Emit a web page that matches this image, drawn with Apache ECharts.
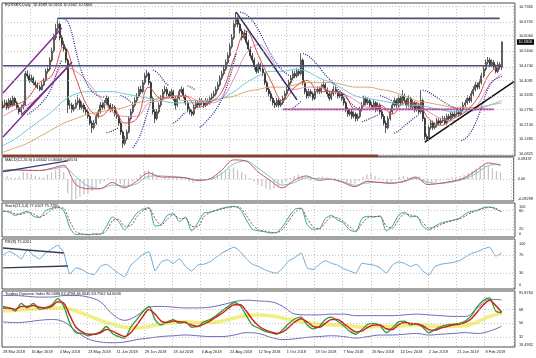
<!DOCTYPE html>
<html><head><meta charset="utf-8">
<script src="https://cdn.jsdelivr.net/npm/echarts@6/dist/echarts.min.js"></script>
<style>html,body{margin:0;padding:0;background:#fff}#c{width:536px;height:358px}</style>
</head><body><div id="c"></div>
<script>
// ---------- tick labels / categories ----------
const dateLabels = ['28 Mar 2018','16 Apr 2018','4 May 2018','23 May 2018','11 Jun 2018','29 Jun 2018','18 Jul 2018','6 Aug 2018','24 Aug 2018','12 Sep 2018','1 Oct 2018','19 Oct 2018','7 Nov 2018','26 Nov 2018','14 Dec 2018','2 Jan 2019','21 Jan 2019','8 Feb 2019'];
const barsPerDateLabel = 14;
const totalSlots = 253;
const priceTicks = [10.0825,10.1485,10.2130,10.2790,10.3435,10.4091,10.4740,10.5400,10.6060,10.6705,10.7365];
const macdTicks = [-0.09299, 0, 0.09437];
const stochTicks = [0, 20, 80, 100];
const rsiTicks = [0, 30, 70, 100];
const tdiTicks = [19.4932, 32, 50, 68, 91.8764];
const macdLevels = [0];
const stochLevels = [80, 20];
const rsiLevels = [70, 30];
const tdiLevels = [68, 50, 32];
const lastPrice = 10.5806;

// ---------- price data (daily EURSEK) ----------
const firstOpen = 10.290;
const closes = [10.300,10.310,10.290,10.320,10.300,10.330,10.310,10.290,10.270,10.290,
10.300,10.440,10.430,10.410,10.420,10.400,10.390,10.380,10.370,10.390,
10.410,10.450,10.460,10.500,10.540,10.600,10.640,10.660,10.600,10.570,
10.550,10.500,10.300,10.300,10.280,10.290,10.310,10.320,10.290,10.300,
10.280,10.270,10.250,10.220,10.200,10.220,10.250,10.270,10.300,10.290,
10.310,10.330,10.300,10.280,10.290,10.260,10.250,10.220,10.180,10.130,
10.150,10.180,10.240,10.270,10.300,10.320,10.340,10.370,10.360,10.400,
10.430,10.440,10.400,10.330,10.270,10.240,10.270,10.300,10.330,10.360,
10.370,10.350,10.340,10.360,10.330,10.300,10.330,10.360,10.370,10.340,
10.310,10.280,10.270,10.260,10.290,10.310,10.300,10.320,10.310,10.300,
10.320,10.310,10.330,10.340,10.350,10.370,10.390,10.420,10.440,10.460,
10.490,10.520,10.560,10.600,10.660,10.680,10.660,10.630,10.600,10.620,
10.580,10.550,10.520,10.500,10.470,10.450,10.480,10.460,10.440,10.400,
10.370,10.350,10.330,10.310,10.300,10.320,10.300,10.310,10.330,10.350,
10.370,10.400,10.420,10.440,10.430,10.450,10.440,10.500,10.400,10.360,
10.340,10.360,10.350,10.330,10.360,10.370,10.360,10.380,10.390,10.370,
10.350,10.330,10.350,10.370,10.360,10.340,10.350,10.330,10.310,10.280,
10.260,10.270,10.250,10.260,10.240,10.250,10.280,10.300,10.330,10.310,
10.320,10.300,10.290,10.310,10.280,10.300,10.270,10.250,10.220,10.200,
10.240,10.270,10.300,10.320,10.300,10.330,10.310,10.340,10.320,10.300,
10.330,10.290,10.310,10.280,10.300,10.270,10.320,10.240,10.160,10.150,
10.200,10.220,10.200,10.210,10.230,10.220,10.230,10.240,10.220,10.250,
10.240,10.260,10.250,10.260,10.270,10.260,10.280,10.300,10.310,10.330,
10.320,10.350,10.370,10.390,10.380,10.400,10.430,10.460,10.490,10.500,
10.480,10.490,10.470,10.450,10.480,10.469,10.581];
const highs = [10.318,10.325,10.322,10.331,10.334,10.342,10.338,10.318,10.299,10.303,
10.312,10.452,10.455,10.441,10.436,10.428,10.412,10.401,10.391,10.402,
10.421,10.462,10.478,10.513,10.556,10.618,10.662,10.686,10.672,10.612,
10.586,10.561,10.508,10.322,10.311,10.304,10.325,10.345,10.331,10.316,
10.309,10.292,10.281,10.258,10.231,10.234,10.262,10.283,10.314,10.312,
10.323,10.343,10.338,10.309,10.305,10.298,10.272,10.259,10.228,10.188,
10.164,10.192,10.251,10.284,10.313,10.334,10.353,10.383,10.386,10.412,
10.443,10.456,10.448,10.408,10.338,10.281,10.283,10.312,10.344,10.372,
10.386,10.381,10.362,10.373,10.368,10.339,10.342,10.371,10.383,10.378,
10.348,10.318,10.292,10.281,10.302,10.323,10.321,10.333,10.331,10.318,
10.332,10.329,10.342,10.353,10.364,10.383,10.404,10.433,10.454,10.474,
10.503,10.534,10.574,10.616,10.676,10.714,10.695,10.671,10.641,10.636,
10.629,10.591,10.561,10.532,10.511,10.481,10.493,10.489,10.471,10.448,
10.411,10.381,10.362,10.341,10.322,10.333,10.329,10.324,10.342,10.363,
10.384,10.413,10.434,10.455,10.452,10.463,10.461,10.530,10.508,10.409,
10.371,10.373,10.371,10.359,10.372,10.384,10.382,10.393,10.410,10.401,
10.379,10.361,10.364,10.385,10.381,10.369,10.362,10.358,10.339,10.318,
10.291,10.283,10.279,10.272,10.268,10.263,10.293,10.314,10.342,10.341,
10.334,10.329,10.312,10.324,10.318,10.313,10.309,10.281,10.259,10.231,
10.252,10.283,10.313,10.334,10.329,10.344,10.341,10.367,10.351,10.331,
10.343,10.338,10.323,10.318,10.314,10.309,10.367,10.329,10.248,10.172,
10.213,10.234,10.231,10.223,10.243,10.241,10.244,10.253,10.251,10.262,
10.261,10.272,10.271,10.273,10.283,10.281,10.293,10.314,10.324,10.344,
10.341,10.363,10.384,10.404,10.401,10.414,10.444,10.474,10.503,10.514,
10.511,10.504,10.501,10.481,10.493,10.491,10.583];
const lows = [10.278,10.290,10.279,10.283,10.291,10.294,10.298,10.280,10.258,10.262,
10.281,10.296,10.418,10.398,10.402,10.389,10.378,10.371,10.362,10.364,
10.383,10.404,10.440,10.452,10.491,10.532,10.590,10.628,10.588,10.556,
10.538,10.487,10.265,10.282,10.266,10.271,10.282,10.301,10.279,10.281,
10.268,10.257,10.239,10.207,10.176,10.191,10.212,10.241,10.262,10.278,
10.281,10.302,10.289,10.268,10.271,10.249,10.238,10.208,10.167,10.110,
10.121,10.142,10.174,10.231,10.262,10.291,10.310,10.332,10.348,10.352,
10.391,10.421,10.389,10.318,10.258,10.220,10.232,10.262,10.291,10.322,
10.349,10.339,10.328,10.331,10.319,10.280,10.292,10.322,10.351,10.329,
10.299,10.268,10.258,10.250,10.252,10.281,10.289,10.292,10.299,10.288,
10.291,10.298,10.302,10.321,10.331,10.342,10.361,10.382,10.411,10.431,
10.452,10.481,10.511,10.551,10.591,10.648,10.645,10.618,10.588,10.591,
10.568,10.538,10.509,10.488,10.458,10.440,10.442,10.449,10.428,10.389,
10.358,10.338,10.318,10.298,10.287,10.291,10.289,10.292,10.302,10.322,
10.341,10.362,10.391,10.411,10.419,10.421,10.429,10.432,10.388,10.348,
10.328,10.331,10.338,10.319,10.322,10.351,10.349,10.352,10.371,10.359,
10.338,10.319,10.322,10.341,10.349,10.329,10.331,10.318,10.298,10.268,
10.248,10.251,10.238,10.241,10.226,10.229,10.242,10.272,10.292,10.298,
10.301,10.289,10.278,10.281,10.268,10.272,10.258,10.238,10.208,10.175,
10.192,10.231,10.262,10.291,10.288,10.292,10.298,10.301,10.309,10.288,
10.291,10.278,10.281,10.268,10.271,10.258,10.262,10.228,10.145,10.141,
10.143,10.191,10.189,10.192,10.201,10.209,10.211,10.221,10.211,10.213,
10.229,10.232,10.241,10.242,10.252,10.249,10.252,10.272,10.291,10.302,
10.309,10.312,10.341,10.361,10.369,10.371,10.391,10.421,10.451,10.481,
10.469,10.471,10.459,10.441,10.442,10.458,10.456];

// moving averages read every 6 bars
const maStep = 6;
const maRed = [10.29,10.30,10.33,10.40,10.43,10.56,10.42,10.29,10.25,10.29,10.22,10.24,10.38,10.33,10.34,10.34,10.29,10.31,10.36,10.51,10.63,10.52,10.41,10.32,10.38,10.41,10.36,10.36,10.35,10.28,10.28,10.30,10.26,10.31,10.31,10.24,10.21,10.24,10.27,10.33,10.44,10.48];
const maPink = [10.25,10.28,10.30,10.34,10.40,10.47,10.45,10.40,10.33,10.27,10.25,10.25,10.31,10.32,10.34,10.34,10.32,10.31,10.33,10.42,10.53,10.57,10.51,10.41,10.37,10.38,10.38,10.36,10.35,10.32,10.29,10.29,10.28,10.28,10.30,10.27,10.24,10.23,10.26,10.30,10.39,10.44];
const maCyan = [10.12,10.15,10.19,10.23,10.27,10.32,10.35,10.36,10.36,10.36,10.35,10.34,10.33,10.32,10.31,10.31,10.31,10.32,10.33,10.36,10.40,10.43,10.45,10.45,10.46,10.45,10.42,10.40,10.37,10.34,10.33,10.32,10.31,10.30,10.30,10.29,10.28,10.27,10.27,10.28,10.30,10.32];
const maTan = [10.09,10.11,10.13,10.16,10.19,10.22,10.24,10.26,10.27,10.28,10.29,10.31,10.32,10.33,10.33,10.32,10.32,10.32,10.33,10.34,10.36,10.37,10.38,10.38,10.39,10.40,10.40,10.40,10.39,10.38,10.38,10.37,10.36,10.34,10.32,10.31,10.30,10.29,10.29,10.29,10.30,10.31];

// parabolic SAR segments [bar, price]
const sarSegments = [
 [[12,10.258],[15,10.275],[18,10.300],[21,10.330],[23,10.360],[25,10.400],[27,10.460],[29,10.500]],
 [[30,10.686],[32,10.670],[34,10.620],[36,10.540],[38,10.470],[40,10.420],[42,10.385],[44,10.360],[46,10.345],[48,10.338],[50,10.335]],
 [[51,10.176],[53,10.182],[55,10.190],[57,10.200]],
 [[58,10.343],[60,10.335],[62,10.322],[63,10.312]],
 [[64,10.110],[66,10.135],[68,10.175],[70,10.230],[72,10.290],[73,10.315]],
 [[74,10.456],[76,10.445],[78,10.425],[80,10.400],[82,10.385]],
 [[84,10.220],[86,10.232],[88,10.250],[90,10.270]],
 [[91,10.386],[93,10.378],[95,10.366]],
 [[97,10.200],[99,10.215],[101,10.235],[103,10.255],[105,10.280],[107,10.310],[109,10.350],[111,10.400],[113,10.460],[115,10.530]],
 [[117,10.714],[119,10.708],[121,10.695],[123,10.676],[125,10.650],[127,10.618],[129,10.580],[131,10.545],[133,10.512],[135,10.485],[137,10.462],[139,10.445],[141,10.432]],
 [[143,10.287],[145,10.300],[147,10.318]],
 [[148,10.530],[150,10.522],[152,10.508],[154,10.490],[156,10.468],[158,10.445],[160,10.425],[162,10.405],[164,10.385],[166,10.365],[168,10.345],[170,10.325],[172,10.305],[174,10.290],[176,10.280]],
 [[177,10.226],[179,10.232],[181,10.240],[183,10.248],[185,10.256]],
 [[186,10.342],[188,10.336],[190,10.328],[192,10.318]],
 [[193,10.175],[195,10.185],[197,10.200],[199,10.215],[201,10.230],[203,10.245],[205,10.255]],
 [[207,10.367],[209,10.362],[211,10.352],[213,10.340],[215,10.328],[217,10.316],[219,10.305],[221,10.295],[223,10.287],[225,10.282]],
 [[226,10.141],[228,10.150],[230,10.170],[232,10.200],[234,10.240],[236,10.290],[238,10.345],[240,10.390],[242,10.410],[244,10.420],[246,10.428]]
];

// drawn lines [bar, price]
const channelUpper = [[0,10.354],[29,10.643]];
const channelLower = [[0,10.158],[34,10.492]];
const channelLower2 = [[9,10.256],[33,10.478]];
const downTrend = [[115,10.714],[145,10.323]];
const upTrend = [[208,10.135],[252,10.404]];
const resistTop = [[27,10.686],[245,10.686]];
const resistMid = [[0,10.475],[245,10.475]];
const supportMag = [[138,10.281],[242,10.281]];
const supportLow = [[0,10.075],[185,10.075]];

// MACD
const macdStep = 6;
const macdMain = [0.037,0.041,0.037,0.037,0.046,0.059,-0.023,-0.041,-0.041,-0.014,-0.037,-0.009,0.027,0.009,0.009,0.005,-0.005,0.000,0.037,0.082,0.078,0.032,-0.005,-0.037,-0.005,0.014,-0.005,0.000,-0.014,-0.032,-0.009,-0.014,-0.018,-0.009,0.009,-0.023,-0.018,-0.009,0.005,0.037,0.069,0.059];
const macdSignal = [0.033,0.037,0.038,0.037,0.042,0.052,0.010,-0.030,-0.040,-0.025,-0.030,-0.020,0.012,0.014,0.010,0.007,-0.002,-0.001,0.022,0.065,0.078,0.048,0.010,-0.025,-0.015,0.006,0.002,0.000,-0.010,-0.026,-0.016,-0.013,-0.016,-0.012,0.003,-0.014,-0.018,-0.012,0.000,0.025,0.058,0.064];
const histStep = 2;
const macdHist = [0.010,0.012,0.008,0.006,0.010,0.030,0.028,0.022,0.015,0.010,0.008,0.020,0.030,0.040,0.045,0.030,
-0.060,-0.090,-0.085,-0.075,-0.065,-0.060,-0.050,-0.035,-0.020,
-0.010,0.005,-0.005,-0.015,-0.020,-0.035,-0.030,-0.010,0.005,
0.020,0.035,0.038,0.030,0.010,0.000,0.010,0.015,0.008,
0.005,0.010,0.000,-0.010,-0.015,-0.010,-0.005,0.000,0.003,
0.010,0.020,0.030,0.040,0.045,0.050,0.040,0.030,0.020,
0.005,-0.010,-0.020,-0.030,-0.040,-0.045,-0.040,-0.030,-0.020,
-0.010,0.005,0.015,0.020,0.015,0.000,-0.005,0.005,0.010,
0.012,0.008,0.000,0.005,0.003,-0.005,-0.015,-0.020,-0.018,
-0.008,0.010,0.020,0.025,0.015,0.005,-0.005,-0.015,-0.010,
0.000,0.010,0.015,0.010,0.005,0.010,0.012,-0.010,-0.025,
-0.020,-0.012,-0.005,0.000,0.005,0.008,0.010,0.012,0.018,
0.025,0.035,0.045,0.055,0.060,0.055,0.045,0.035,0.030];
const macdTrend = [[0,0.032],[32,0.078]];

// Stochastic (every 3 bars)
const oscStep = 3;
const stochMain = [80,75,65,72,78,62,58,80,88,92,80,25,3,4,2,5,4,30,60,45,18,45,72,85,90,30,35,65,70,45,60,15,40,72,75,82,88,92,94,85,50,20,15,12,8,10,30,60,85,88,35,20,22,55,65,50,40,18,12,55,62,60,63,15,30,65,75,60,62,30,18,30,40,45,50,55,70,78,82,90,92,85,77.01];
const stochSignal = [78,78,70,68,75,70,60,68,84,90,88,45,12,5,3,4,4,15,48,52,30,32,60,80,88,55,33,52,68,55,55,30,28,60,74,80,86,90,93,90,65,35,18,14,10,9,20,48,75,88,55,28,21,42,60,57,45,28,15,38,58,61,62,30,24,50,70,66,61,42,24,26,35,43,48,53,63,74,80,87,91,88,75.73];

// RSI(9) (every 3 bars)
const rsiValues = [70,78,72,62,82,70,62,75,84,92,75,28,42,38,30,27,45,50,40,30,22,48,60,72,78,35,55,60,52,62,45,35,48,50,55,65,75,82,88,78,62,50,45,38,33,30,42,58,65,75,42,38,50,58,52,48,40,35,30,52,50,48,42,30,48,55,52,45,50,35,26,45,50,52,54,58,66,74,78,84,88,68,75.02];
const rsiTrendUpper = [[0,86],[30,75]];
const rsiTrendLower = [[0,42],[32,46]];

// Traders Dynamic Index
const tdiGreen = [72,70,66,76,70,76,68,70,74,82,72,50,38,37,34,36,39,46,37,33,31,45,55,65,72,55,48,52,55,50,52,45,46,52,55,60,66,72,77,73,60,48,44,40,38,36,42,50,56,58,48,43,46,55,58,53,47,40,36,42,49,50,47,38,44,52,53,48,50,45,38,42,46,48,49,50,53,60,72,80,83,66,63.76];
const tdiRed = [70,70,68,72,72,73,71,70,72,78,76,60,45,39,36,36,38,42,40,36,33,38,48,59,68,62,53,51,53,52,51,48,46,49,53,58,63,69,74,74,66,55,47,42,39,37,39,45,52,56,52,46,45,50,55,55,50,44,39,40,45,48,48,43,42,48,51,50,49,47,42,41,44,46,48,49,51,56,65,74,80,73,64.60];
const tdiStep = 6;
const tdiBase = [66,67,68,69,70,70,66,60,54,49,45,44,46,49,51,52,51,51,53,57,60,61,60,57,54,51,49,48,48,46,45,46,46,47,48,47,46,46,47,52,59,63.47];
const tdiUpper = [86,86,85,84,84,86,86,84,78,62,54,60,71,72,71,70,70,71,74,78,80,79,78,72,62,61,61,62,62,60,60,60,60,61,62,61,60,59,59,70,81,80.57];
const tdiLower = [52,51,52,54,55,52,40,30,26,25,26,29,31,33,34,35,34,33,33,35,38,37,32,29,30,32,33,34,33,31,33,35,35,36,37,35,36,37,38,37,40,46.36];

// ---------- build ----------
const FONT = 'Liberation Sans';
const FS = 3.9;
const cats = Array.from({length: totalSlots}, (_, i) => String(i));
const candleData = closes.map((c, i) => [i ? closes[i - 1] : firstOpen, c, lows[i], highs[i]]);
const sampled = (arr, step) => arr.map((v, k) => [k * step, v]);

const grids = [
  {top: 3, height: 153},
  {top: 157, height: 44},
  {top: 203, height: 34},
  {top: 239, height: 50},
  {top: 291, height: 56}
].map(g => Object.assign({left: 2, right: 21, show: true, borderColor: '#4a4a4a', borderWidth: 1, backgroundColor: 'transparent'}, g));

const xAxes = grids.map((g, k) => ({
  type: 'category', gridIndex: k, data: cats, boundaryGap: true,
  axisLine: {show: false}, axisTick: {show: false},
  axisLabel: {
    show: k === 4, fontSize: FS, fontFamily: FONT, color: '#222', margin: 3, align: 'left',
    interval: (idx) => idx % barsPerDateLabel === 0 && idx / barsPerDateLabel < dateLabels.length,
    formatter: (v, idx) => dateLabels[idx / barsPerDateLabel] || ''
  },
  splitLine: {show: true, interval: (idx) => idx % barsPerDateLabel === 0 && idx > 0,
    lineStyle: {color: '#b8b8b8', type: [1, 2], width: 0.8}}
}));

function yAx(k, min, max, ticks, fmt) {
  return {
    type: 'value', gridIndex: k, position: 'right', min, max, scale: true,
    axisLine: {show: false}, axisTick: {show: false}, splitLine: {show: false},
    axisLabel: {show: true, customValues: ticks, formatter: fmt, fontSize: FS, fontFamily: FONT, color: '#222', margin: 4,
      showMinLabel: true, showMaxLabel: true,
      verticalAlignMinLabel: 'bottom', verticalAlignMaxLabel: 'top'}
  };
}
const yAxes = [
  yAx(0, 10.0736, 10.7543, priceTicks, v => v.toFixed(4)),
  yAx(1, -0.09299, 0.09437, macdTicks, v => v === 0 ? '0.00' : v.toFixed(5)),
  yAx(2, -5, 105, stochTicks, v => String(v)),
  yAx(3, -5, 106, rsiTicks, v => String(v)),
  yAx(4, 19.4932, 91.8764, tdiTicks, v => (v % 1 ? v.toFixed(4) : String(v)))
];
yAxes[0].axisLabel.verticalAlignMinLabel = 'middle';
yAxes[0].axisLabel.verticalAlignMaxLabel = 'middle';

const dottedLevel = {color: '#b8b8b8', type: [1, 2], width: 0.8};
function levelLines(values) {
  return {silent: true, symbol: 'none', label: {show: false}, animation: false,
    lineStyle: dottedLevel,
    data: values.map(v => ({yAxis: v}))};
}
function L(k, data, color, width, extra) {
  return Object.assign({type: 'line', xAxisIndex: k, yAxisIndex: k, data, symbol: 'none', silent: true,
    lineStyle: {color, width}, z: 3, animation: false}, extra || {});
}

const series = [];
// main panel
series.push({
  type: 'candlestick', xAxisIndex: 0, yAxisIndex: 0, data: candleData, barWidth: 1.5, z: 2, silent: true,
  itemStyle: {color: '#ffffff', color0: '#1a1a1a', borderColor: '#1a1a1a', borderColor0: '#1a1a1a', borderWidth: 0.7},
  markLine: levelLines(priceTicks)
});
series.push(L(0, sampled(maTan, maStep), '#d9a96a', 1, {smooth: 0.4}));
series.push(L(0, sampled(maCyan, maStep), '#6ec9d9', 1, {smooth: 0.4}));
series.push(L(0, sampled(maPink, maStep), '#e88bc0', 1, {smooth: 0.4}));
series.push(L(0, sampled(maRed, maStep), '#d9503f', 1, {smooth: 0.4}));
sarSegments.forEach(seg => series.push(L(0, seg, '#2b2b94', 1.3, {smooth: 0.3, lineStyle: {color: '#2b2b94', width: 1.3, type: [1, 1.3]}})));
series.push(L(0, channelUpper, '#7b2d8e', 1.4));
series.push(L(0, channelLower, '#7b2d8e', 1.4));
series.push(L(0, channelLower2, '#7b2d8e', 1.2));
series.push(L(0, downTrend, '#2b2b66', 1.5));
series.push(L(0, upTrend, '#111111', 1.5));
series.push(L(0, resistTop, '#4f4f6e', 1.6));
series.push(L(0, resistMid, '#50507e', 1.6));
series.push(L(0, supportMag, '#b0409c', 1.6));
series.push(L(0, supportLow, '#8e3a2a', 2.6));

// MACD panel
series.push({type: 'bar', xAxisIndex: 1, yAxisIndex: 1, data: sampled(macdHist, histStep), barWidth: 1.3, silent: true,
  itemStyle: {color: '#c4c4c4'}, z: 2, animation: false, markLine: levelLines(macdLevels)});
series.push(L(1, sampled(macdSignal, macdStep), '#72c6d6', 1, {smooth: 0.3}));
series.push(L(1, sampled(macdMain, macdStep), '#d0505a', 1, {smooth: 0.3}));
series.push(L(1, macdTrend, '#3a3a72', 1.3));

// Stochastic panel
series.push(L(2, sampled(stochMain, oscStep), '#3aa2a6', 1, {smooth: 0.25, markLine: levelLines(stochLevels)}));
series.push(L(2, sampled(stochSignal, oscStep), '#8a5a5a', 1, {smooth: 0.25, lineStyle: {color: '#8a5a5a', width: 1, type: [2, 1.5]}}));

// RSI panel
series.push(L(3, sampled(rsiValues, oscStep), '#6aaad8', 1, {smooth: 0.15, markLine: levelLines(rsiLevels)}));
series.push(L(3, rsiTrendUpper, '#3a3a58', 1.4));
series.push(L(3, rsiTrendLower, '#3a3a58', 1.4));

// TDI panel
series.push(L(4, sampled(tdiBase, tdiStep), '#f2ee80', 3.5, {smooth: 0.4, markLine: levelLines(tdiLevels)}));
series.push(L(4, sampled(tdiUpper, tdiStep), '#6c6cba', 1, {smooth: 0.4}));
series.push(L(4, sampled(tdiLower, tdiStep), '#6c6cba', 1, {smooth: 0.4}));
series.push(L(4, sampled(tdiGreen, oscStep), '#2f9a2f', 1.3, {smooth: 0.25}));
series.push(L(4, sampled(tdiRed, oscStep), '#cc2424', 1.5, {smooth: 0.3}));

const texts = [
  [5, 3, 'EURSEK,Daily  10.4689 10.5826 10.4562 10.5806'],
  [5, 158, 'MACD(12,26,9) 0.06642 0.06068 0.00574'],
  [5, 204, 'Stoch(21,5,4) 77.0107 75.7295'],
  [5, 240, 'RSI(9) 75.0201'],
  [5, 292, 'Traders Dynamic Index 80.5688 63.4708 46.3645 63.7562 64.6036']
];

const chart = echarts.init(document.getElementById('c'), null, {renderer: 'canvas'});
chart.setOption({
  animation: false,
  backgroundColor: '#ffffff',
  grid: grids, xAxis: xAxes, yAxis: yAxes, series,
  graphic: texts.map(([x, y, t]) => ({type: 'text', x, y, z: 10, silent: true,
    style: {text: t, fill: '#111', fontSize: FS, fontFamily: FONT}}))
});

// current-price box placed through the price axis scale
const askY = chart.convertToPixel({yAxisIndex: 0}, lastPrice);
const gridRight = chart.convertToPixel({xAxisIndex: 0}, totalSlots - 1) + 1;
chart.setOption({
  graphic: texts.map(() => ({})).concat([{
    type: 'text', x: gridRight + 2, y: askY, z: 20, silent: true,
    style: {text: lastPrice.toFixed(4), fill: '#fff', backgroundColor: '#000', fontSize: FS, fontFamily: FONT,
      verticalAlign: 'middle', padding: [1, 1.5, 0.5, 1.5]}
  }])
});
</script>
</body></html>
